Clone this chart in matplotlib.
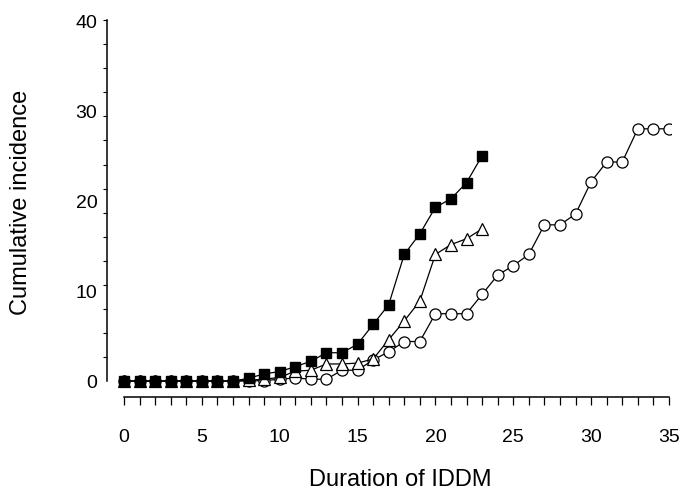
import numpy as np
import matplotlib
matplotlib.use("Agg")
import matplotlib.pyplot as plt

plt.rcParams['font.family'] = ['Liberation Sans', 'DejaVu Sans']

# 데이터
x_sq = list(range(0, 24))
sq = [0, 0, 0, 0, 0, 0, 0, 0, 0.3, 0.8, 1.05, 1.6, 2.2, 3.15, 3.15, 4.1,
      6.3, 8.5, 14.1, 16.4, 19.35, 20.3, 22.1, 25.1]

x_tri = list(range(0, 24))
tri = [0, 0, 0, 0, 0, 0, 0, 0, 0.1, 0.2, 0.4, 1.1, 1.2, 1.9, 1.9, 2.0,
       2.45, 4.6, 6.7, 8.9, 14.1, 15.2, 15.85, 16.95]

x_circ = list(range(0, 36))
circ = [0, 0, 0, 0, 0, 0, 0, 0, 0, 0.05, 0.2, 0.35, 0.2, 0.2, 1.2, 1.2,
        2.35, 3.25, 4.4, 4.4, 7.5, 7.5, 7.5, 9.65, 11.8, 12.85, 14.1, 17.4,
        17.4, 18.6, 22.2, 24.4, 24.4, 28.1, 28.1, 28.1]

x_ticklabels = [0, 5, 10, 15, 20, 25, 30, 35]
y_ticklabels = [0, 10, 20, 30, 40]

fig = plt.figure(figsize=(6.87, 4.91), dpi=100)
ax = fig.add_axes([107 / 687, 94 / 491, 563.5 / 687, 377.7 / 491])

# 그래프
ax.plot(x_circ, circ, color="black", lw=0.9, marker="o", markersize=8,
        markerfacecolor="white", markeredgecolor="black", markeredgewidth=0.9, zorder=3)
ax.plot(x_tri, tri, color="black", lw=0.9, marker="^", markersize=8.5,
        markerfacecolor="white", markeredgecolor="black", markeredgewidth=0.9, zorder=4)
ax.plot(x_sq, sq, color="black", lw=0.9, marker="s", markersize=6.5,
        markerfacecolor="black", markeredgecolor="black", zorder=5)

ax.set_xlim(-1.09, 35.1)
ax.set_ylim(-1.78, 40.3)

for s in ["top", "right"]:
    ax.spines[s].set_visible(False)
ax.spines["left"].set_bounds(0, 40.2)
ax.spines["bottom"].set_bounds(0, 35)
ax.spines["left"].set_linewidth(1.1)
ax.spines["bottom"].set_linewidth(1.1)

ax.set_xticks(range(0, 36))
ax.set_xticklabels([str(v) if v in x_ticklabels else "" for v in range(0, 36)])
ax.tick_params(axis="x", direction="out", length=6, width=0.9, pad=17, labelsize=14)

ax.set_yticks(y_ticklabels)
ax.set_yticks(np.linspace(0, 40.2, 16), minor=True)
ax.tick_params(axis="y", which="major", length=0, pad=7, labelsize=14)
ax.tick_params(axis="y", which="minor", direction="out", length=3, width=0.8)

# 그래프 꾸미기
ax.set_xlabel("Duration of IDDM", fontsize=17)
ax.xaxis.set_label_coords((400 - 107) / 563.5, -(469 - 397) / 377.7)
ax.set_ylabel("Cumulative incidence", fontsize=17)
ax.yaxis.set_label_coords(-(107 - 32) / 563.5, (397 - 202) / 377.7)

fig.savefig("out.png", dpi=100)
